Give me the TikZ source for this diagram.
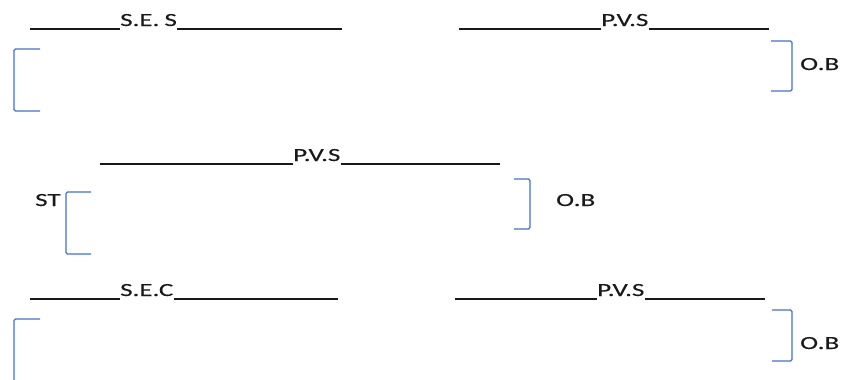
\documentclass[tikz,border=0pt]{standalone}
\usepackage{fontspec}
\newfontfamily\labfont[FakeStretch=1.46,FakeBold=0.3]{Carlito}
\definecolor{brk}{HTML}{4472C4}
\tikzset{
  lab/.style={inner sep=0pt, anchor=base west, font=\labfont\fontsize{18.5}{21}\selectfont, text=black!90},
  rule/.style={draw=black!90, line width=1.4pt},
  brack/.style={draw=brk, line width=1.3pt, rounded corners=1.5pt}
}
\begin{document}
\begin{tikzpicture}[x=1pt,y=-1pt]
\useasboundingbox (0,0) rectangle (841,380);
% Row 1 left
\coordinate (r1a) at (30,29);
\coordinate (r1b) at (342,29);
\node[lab] (ses) at (120,26) {S.E.\kern-1pt\ S};
\draw[rule] (r1a) -- (r1a -| ses.west);
\draw[rule] (ses.east |- r1b) -- (r1b);
\coordinate (b1t) at (40,49);
\coordinate (b1b) at (40,111);
\draw[brack] (b1t) -- (14,49) -- (14,111) -- (b1b);
% Row 1 right
\coordinate (r1c) at (459,29);
\coordinate (r1d) at (769,29);
\node[lab] (pvs1) at (601,26) {P.V.S};
\draw[rule] (r1c) -- (r1c -| pvs1.west);
\draw[rule] (pvs1.east |- r1d) -- (r1d);
\coordinate (b2t) at (771,41);
\coordinate (b2b) at (771,91);
\draw[brack] (b2t) -- (792,41) -- (792,91) -- (b2b);
\node[lab] (ob1) at (800,70) {O.B};
% Row 2
\coordinate (r2a) at (100,164);
\coordinate (r2b) at (500,164);
\node[lab] (pvs2) at (293,161) {P.V.S};
\draw[rule] (r2a) -- (r2a -| pvs2.west);
\draw[rule] (pvs2.east |- r2b) -- (r2b);
\node[lab] (st) at (35,206) {ST};
\coordinate (b3t) at (91,192);
\coordinate (b3b) at (91,254);
\draw[brack] (b3t) -- (66,192) -- (66,254) -- (b3b);
\coordinate (b4t) at (514,179);
\coordinate (b4b) at (514,229);
\draw[brack] (b4t) -- (530,179) -- (530,229) -- (b4b);
\node[lab] (ob2) at (556,206) {O.B};
% Row 3 left
\coordinate (r3a) at (30,299);
\coordinate (r3b) at (338,299);
\node[lab] (sec) at (120,296) {S.E.C};
\draw[rule] (r3a) -- (r3a -| sec.west);
\draw[rule] (sec.east |- r3b) -- (r3b);
\coordinate (b5t) at (40,319);
\coordinate (b5b) at (14,384);
\draw[brack] (b5t) -- (14,319) -- (b5b);
% Row 3 right
\coordinate (r3c) at (455,299);
\coordinate (r3d) at (765,299);
\node[lab] (pvs3) at (597,296) {P.V.S};
\draw[rule] (r3c) -- (r3c -| pvs3.west);
\draw[rule] (pvs3.east |- r3d) -- (r3d);
\coordinate (b6t) at (772,310);
\coordinate (b6b) at (772,361);
\draw[brack] (b6t) -- (792,310) -- (792,361) -- (b6b);
\node[lab] (ob3) at (800,349) {O.B};
\end{tikzpicture}
\end{document}
